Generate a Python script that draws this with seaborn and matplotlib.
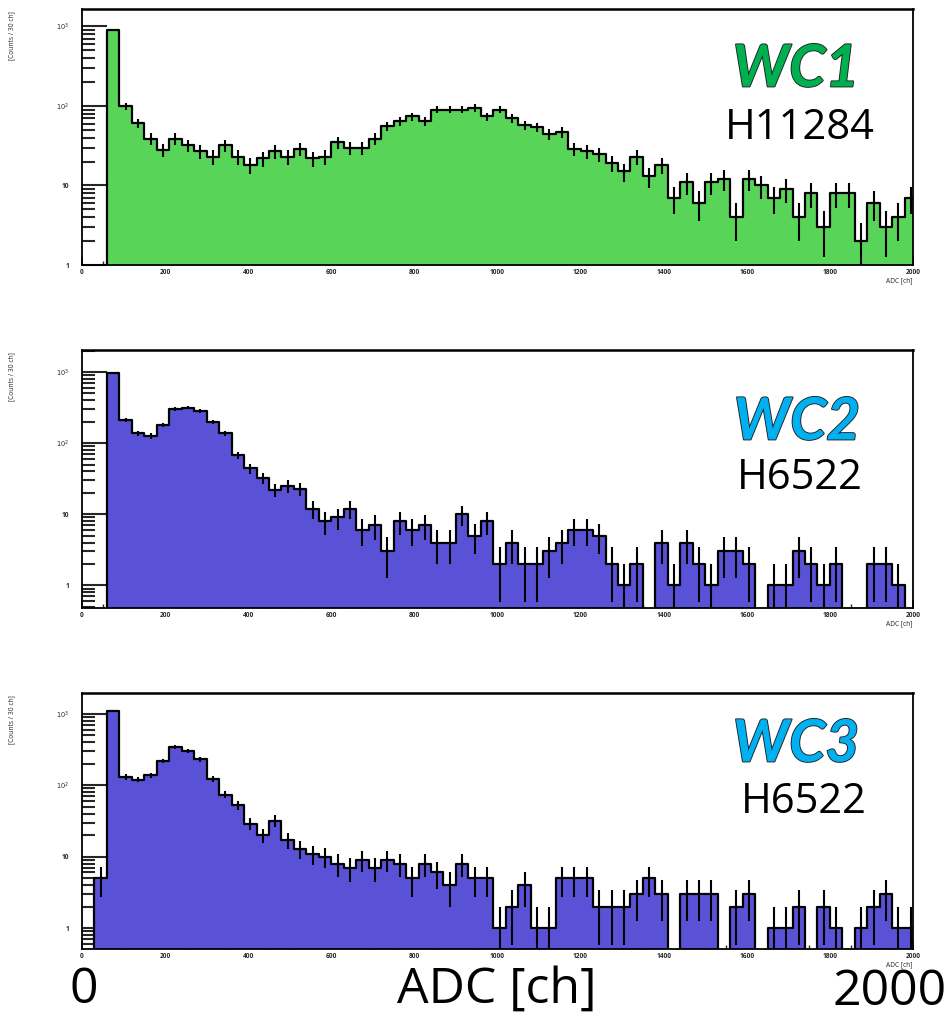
import numpy as np
import pandas as pd
import matplotlib
matplotlib.use("Agg")
import matplotlib.pyplot as plt
import matplotlib.ticker as mticker
import matplotlib.patheffects as pe
import seaborn as sns

# ---------------- data ----------------
bin_width = 30
x_min, x_max = 0, 2010
edges = np.arange(x_min, x_max + 1, bin_width)

wc1_counts = [0, 0, 900, 100, 61, 39, 28, 39, 32, 27, 23, 32, 23, 18, 22, 27, 23, 29,
              22, 23, 35, 30, 30, 39, 56, 64, 74, 64, 90, 90, 90, 95, 74, 90, 70, 57,
              54, 44, 47, 29, 27, 25, 19, 15, 23, 13, 18, 7, 11, 6, 11, 12, 4, 12, 10,
              7, 9, 4, 8, 3, 8, 8, 2, 6, 3, 4, 7]
wc2_counts = [0, 0, 980, 212, 137, 126, 181, 300, 316, 284, 200, 138, 68, 44, 32, 22, 25,
              23, 12, 8, 9, 12, 6, 7, 3, 8, 6, 7, 4, 4, 10, 5, 8, 2, 4, 2, 2, 3, 4, 6,
              6, 5, 2, 1, 2, 0, 4, 1, 4, 2, 1, 3, 3, 2, 0, 1, 1, 3, 2, 1, 2, 0, 0, 2, 2,
              1, 0]
wc3_counts = [0, 5, 1080, 130, 120, 137, 218, 343, 300, 229, 123, 74, 52, 29, 20, 32, 17,
              13, 11, 10, 8, 7, 9, 7, 9, 8, 5, 8, 6, 4, 8, 5, 5, 1, 2, 4, 1, 1, 5, 5, 5,
              2, 2, 2, 3, 5, 3, 0, 3, 3, 3, 0, 2, 3, 0, 1, 1, 2, 0, 2, 1, 0, 1, 2, 3, 1,
              1]

panel_names = ["WC1", "WC2", "WC3"]
pmt_names = ["H11284", "H6522", "H6522"]
ylims = [(1.0, 10 ** 3.22), (0.48, 10 ** 3.31), (0.51, 10 ** 3.29)]

fill_colors = ["#58d458", "#5a52d6", "#5a52d6"]
name_colors = ["#00b050", "#00b0f0", "#00b0f0"]

# ---------------- figure ----------------
W, H = 951, 1019
sns.set_theme(style="white")
plt.rcParams["font.family"] = ["Open Sans", "DejaVu Sans"]
fig = plt.figure(figsize=(W / 100, H / 100), dpi=100)

# axes boxes in pixels: (left, top, right, bottom)
boxes = [(82, 9, 913, 265), (82, 350, 913, 608), (82, 693, 913, 949)]
name_pos = [(796, 70), (797, 423), (796, 745)]
pmt_pos = [(800, 128), (800, 478), (804, 802)]

centers = (edges[:-1] + edges[1:]) / 2
all_counts = [wc1_counts, wc2_counts, wc3_counts]

for i, counts in enumerate(all_counts):
    l, t, r, b = boxes[i]
    ax = fig.add_axes([l / W, 1 - b / H, (r - l) / W, (b - t) / H])
    counts = np.asarray(counts, dtype=float)
    df = pd.DataFrame({"adc": centers, "counts": counts})
    ax.set_yscale("log")
    sns.histplot(data=df, x="adc", weights="counts", bins=edges.tolist(), element="step",
                 fill=True, color=fill_colors[i], alpha=1.0, edgecolor="black",
                 linewidth=1.6, ax=ax)
    m = counts > 0
    ax.errorbar(centers[m], counts[m], yerr=np.sqrt(counts[m]), fmt="none",
                ecolor="black", elinewidth=1.5, capsize=0, zorder=5)
    ax.set_xlim(0, 2000)
    ax.set_ylim(*ylims[i])

    # ROOT-like axes
    for s in ax.spines.values():
        s.set_color("black")
        s.set_linewidth(1.3)
        s.set_visible(True)
    ax.spines["top"].set_linewidth(1.8)
    ax.set_facecolor("white")
    ax.grid(False)

    ax.xaxis.set_major_locator(mticker.MultipleLocator(200))
    ax.xaxis.set_minor_locator(mticker.MultipleLocator(50))
    ax.xaxis.set_major_formatter(mticker.FormatStrFormatter("%d"))
    ax.yaxis.set_major_locator(mticker.FixedLocator([1, 10, 100, 1000]))
    ax.yaxis.set_major_formatter(mticker.FixedFormatter(["1", "10", r"$10^{2}$", r"$10^{3}$"]))
    ax.yaxis.set_minor_locator(mticker.LogLocator(base=10, subs=np.arange(2, 10)))
    ax.yaxis.set_minor_formatter(mticker.NullFormatter())

    ax.tick_params(axis="x", which="major", direction="in", length=5.5, width=1.2,
                   labelsize=4.8, pad=3, bottom=True, top=False)
    ax.tick_params(axis="x", which="minor", direction="in", length=3, width=1.0,
                   bottom=True, top=False)
    ax.tick_params(axis="y", which="major", direction="in", length=18, width=1.5,
                   labelsize=4.8, pad=9, left=True, right=False)
    ax.tick_params(axis="y", which="minor", direction="in", length=9.5, width=1.5,
                   left=True, right=False)
    for lab in ax.get_xticklabels() + ax.get_yticklabels():
        lab.set_fontweight("bold")

    ax.set_xlabel("ADC [ch]", fontsize=4.8, loc="right", labelpad=1)
    ax.set_ylabel("[Counts / 30 ch]", fontsize=4.8, loc="top")
    ax.yaxis.set_label_coords(-0.08, 0.99)

    # panel annotations
    nx, ny = name_pos[i]
    fig.text(nx / W, 1 - ny / H, panel_names[i], fontsize=42, fontweight="bold",
             fontstyle="italic", family=["Lato", "DejaVu Sans"], color=name_colors[i],
             ha="center", va="center",
             path_effects=[pe.withStroke(linewidth=1.3, foreground="#202020")])
    px, py = pmt_pos[i]
    fig.text(px / W, 1 - py / H, pmt_names[i], fontsize=30, color="black",
             ha="center", va="center")

# bottom axis annotations
fig.text(84 / W, 1 - 990 / H, "0", fontsize=36, ha="center", va="center", color="black")
fig.text(497 / W, 1 - 990 / H, "ADC [ch]", fontsize=36, ha="center", va="center", color="black")
fig.text(890 / W, 1 - 992 / H, "2000", fontsize=36, ha="center", va="center", color="black")

fig.savefig("out.png", dpi=100, facecolor="white")
